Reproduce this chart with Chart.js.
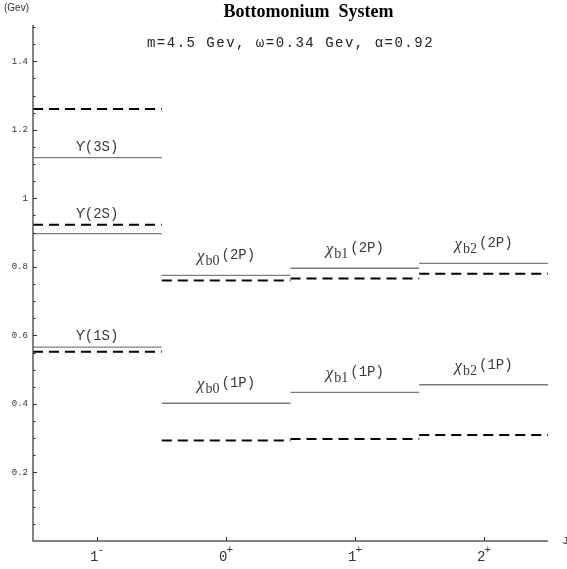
<!DOCTYPE html>
<html>
<head>
<meta charset="utf-8">
<title>Bottomonium System</title>
<script src="https://cdn.jsdelivr.net/npm/chart.js@4.4.1/dist/chart.umd.min.js"></script>
<style>
  html, body { margin: 0; padding: 0; background: #fff; }
  canvas { display: block; }
</style>
</head>
<body>
<canvas id="levels" width="567" height="569"></canvas>
<script>
// J^P columns along the x axis
const jValues = ['1', '0', '1', '2'];
const jParity = ['-', '+', '+', '+'];

// y axis ticks (GeV)
const yTickValues = [0.2, 0.4, 0.6, 0.8, 1.0, 1.2, 1.4];
const yTickLabels = ['0.2', '0.4', '0.6', '0.8', '1', '1.2', '1.4'];

// states: which column, name pieces, and the two level values
const stateColumn = [0, 0, 0, 1, 2, 3, 1, 2, 3];
const stateBase = ['\u03D2', '\u03D2', '\u03D2', '\u03C7', '\u03C7', '\u03C7', '\u03C7', '\u03C7', '\u03C7'];
const stateSub = ['', '', '', 'b0', 'b1', 'b2', 'b0', 'b1', 'b2'];
const stateTail = ['(1S)', '(2S)', '(3S)', '(1P)', '(1P)', '(1P)', '(2P)', '(2P)', '(2P)'];
const solidLevels = [0.566, 0.897, 1.119, 0.402, 0.434, 0.456, 0.775, 0.796, 0.810];
const dashedLevels = [0.552, 0.923, 1.261, 0.293, 0.298, 0.309, 0.760, 0.766, 0.780];

const MONO = '"Liberation Mono", "DejaVu Sans Mono", monospace';
const SERIF = '"Liberation Serif", "DejaVu Serif", serif';

function segment(i, v) {
  const c = stateColumn[i];
  return [{ x: c, y: v }, { x: c + 1, y: v }];
}

const datasets = [];
solidLevels.forEach((v, i) => {
  datasets.push({
    data: segment(i, v),
    borderColor: '#7c7c7c',
    borderWidth: 1.3,
    pointRadius: 0
  });
});
dashedLevels.forEach((v, i) => {
  datasets.push({
    data: segment(i, v),
    borderColor: '#000',
    borderWidth: 2,
    borderDash: [10, 6],
    pointRadius: 0
  });
});

// axes, ticks and all the text are painted here, Mathematica style
const frame = {
  id: 'frame',
  afterDraw(chart) {
    const ctx = chart.ctx;
    const xs = chart.scales.x;
    const ys = chart.scales.y;
    const area = chart.chartArea;
    ctx.save();

    // axis lines
    ctx.strokeStyle = '#5a5a5a';
    ctx.lineWidth = 1.5;
    ctx.beginPath();
    ctx.moveTo(area.left, area.top - 2);
    ctx.lineTo(area.left, area.bottom);
    ctx.lineTo(area.right, area.bottom);
    ctx.stroke();

    // y ticks: minor every 0.05, major with labels
    ctx.lineWidth = 1;
    ctx.strokeStyle = '#333';
    for (let k = 1; k <= 30; k++) {
      const py = Math.round(ys.getPixelForValue(k * 0.05)) + 0.5;
      const major = k % 4 === 0;
      ctx.beginPath();
      ctx.moveTo(area.left, py);
      ctx.lineTo(area.left + (major ? 4 : 2.5), py);
      ctx.stroke();
    }
    ctx.fillStyle = '#333';
    ctx.font = '9px ' + MONO;
    ctx.textAlign = 'right';
    ctx.textBaseline = 'middle';
    yTickValues.forEach((v, i) => {
      ctx.fillText(yTickLabels[i], area.left - 5, ys.getPixelForValue(v));
    });

    // x ticks at column centres with J^P labels
    jValues.forEach((j, c) => {
      const px = Math.round(xs.getPixelForValue(c + 0.5)) + 0.5;
      ctx.beginPath();
      ctx.moveTo(px, area.bottom);
      ctx.lineTo(px, area.bottom - 4);
      ctx.stroke();
      ctx.textAlign = 'left';
      ctx.textBaseline = 'alphabetic';
      ctx.font = '14px ' + MONO;
      const w1 = ctx.measureText(j).width;
      ctx.font = '11px ' + MONO;
      const w2 = ctx.measureText(jParity[c]).width;
      const x0 = px - (w1 + w2) / 2;
      ctx.font = '14px ' + MONO;
      ctx.fillText(j, x0, area.bottom + 20);
      ctx.font = '11px ' + MONO;
      ctx.fillText(jParity[c], x0 + w1 - 1, area.bottom + 12);
    });

    // axis captions
    ctx.font = '11px ' + MONO;
    ctx.textAlign = 'left';
    ctx.textBaseline = 'middle';
    ctx.fillText('J', area.right + 14, area.bottom);
    ctx.font = '10px "Liberation Sans", Arial, sans-serif';
    ctx.fillText('(Gev)', 4, 8);

    // title and parameter line
    ctx.fillStyle = '#000';
    ctx.textAlign = 'center';
    ctx.font = 'bold 18px ' + SERIF;
    ctx.fillText('Bottomonium  System', (area.left + area.right) / 2 + 18, 12);
    ctx.fillStyle = '#222';
    ctx.font = '14px ' + MONO;
    ctx.letterSpacing = '1.5px';
    ctx.fillText('m=4.5 Gev, \u03C9=0.34 Gev, \u03B1=0.92', (area.left + area.right) / 2, 43);
    ctx.letterSpacing = '0px';

    // state names above their levels
    ctx.fillStyle = '#3a3a3a';
    ctx.textAlign = 'left';
    ctx.textBaseline = 'alphabetic';
    solidLevels.forEach((v, i) => {
      const d = dashedLevels[i];
      const anchor = (d > v && d - v < 0.1) ? d : v;
      const py = ys.getPixelForValue(anchor);
      const cx = xs.getPixelForValue(stateColumn[i] + 0.5);
      const hasSub = stateSub[i] !== '';
      const baseFont = hasSub ? 'italic 17px ' + SERIF : '14px ' + MONO;
      const subFont = '14px ' + SERIF;
      const tailFont = '14px ' + MONO;
      ctx.font = baseFont;
      const wb = ctx.measureText(stateBase[i]).width;
      ctx.font = subFont;
      const ws = hasSub ? ctx.measureText(stateSub[i]).width : 0;
      ctx.font = tailFont;
      const wt = ctx.measureText(stateTail[i]).width;
      let x = cx - (wb + ws + wt + (hasSub ? 3 : 0)) / 2;
      const base = py - (hasSub ? 16 : 7);
      ctx.font = baseFont;
      ctx.fillText(stateBase[i], x, base + (hasSub ? 2 : 0));
      x += wb + (hasSub ? 1 : 0);
      if (hasSub) {
        ctx.font = subFont;
        ctx.fillText(stateSub[i], x, base + 6);
        x += ws + 2;
      }
      ctx.font = tailFont;
      ctx.fillText(stateTail[i], x, base);
    });

    ctx.restore();
  }
};

new Chart(document.getElementById('levels'), {
  type: 'line',
  data: { datasets: datasets },
  options: {
    responsive: false,
    animation: false,
    layout: { padding: { left: 33, right: 19, top: 27, bottom: 28 } },
    plugins: {
      legend: { display: false },
      tooltip: { enabled: false },
      title: { display: false }
    },
    scales: {
      x: { type: 'linear', min: 0, max: 4, display: false },
      y: { type: 'linear', min: 0, max: 1.5, display: false }
    }
  },
  plugins: [frame]
});
</script>
</body>
</html>
